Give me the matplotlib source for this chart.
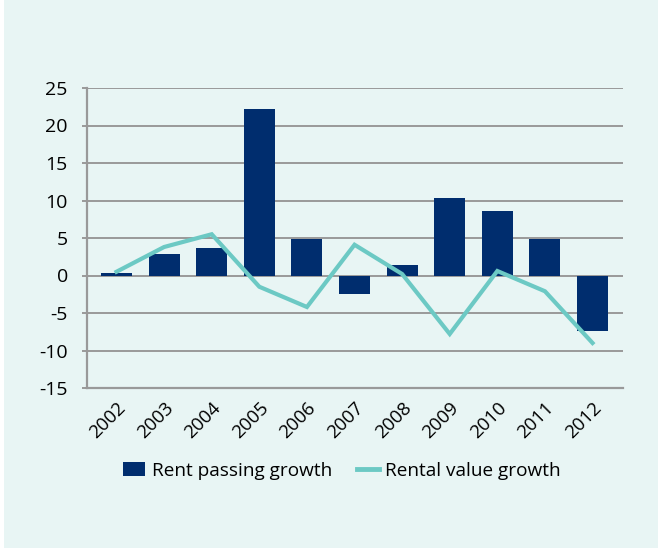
import matplotlib
matplotlib.use("Agg")
import matplotlib.pyplot as plt
from matplotlib.patches import Rectangle
from matplotlib.lines import Line2D

years = ["2002", "2003", "2004", "2005", "2006", "2007", "2008", "2009", "2010", "2011", "2012"]
rent_passing = [0.3, 2.9, 3.7, 22.2, 4.9, -2.4, 1.4, 10.3, 8.6, 4.9, -7.4]
rental_value = [0.5, 3.8, 5.5, -1.5, -4.2, 4.1, 0.2, -7.8, 0.6, -2.1, -9.0]
yticks = [-15, -10, -5, 0, 5, 10, 15, 20, 25]

plt.rcParams['font.family'] = ['Open Sans', 'DejaVu Sans']
bg = "#E8F5F4"
bar_c = "#002D6E"
line_c = "#6CC9C4"
grid_c = "#999999"
txt_c = "#000000"

fig = plt.figure(figsize=(6.58, 5.48), dpi=100, facecolor="white")
fig.patches.append(Rectangle((4/658, 0), 1, 1, transform=fig.transFigure,
                             facecolor=bg, edgecolor="none", zorder=-10))
ax = fig.add_axes([87/658, 1-388/548, (623-87)/658, 300/548])
ax.set_facecolor(bg)

x = list(range(len(years)))
ax.bar(x, rent_passing, width=0.65, color=bar_c, zorder=3, label="Rent passing growth")
ax.plot(x, rental_value, color=line_c, lw=3.0, zorder=4, label="Rental value growth",
        solid_joinstyle="miter")

ax.set_ylim(-15, 25)
ax.set_xlim(-0.62, 10.64)
ax.set_yticks(yticks)
ax.set_yticklabels([str(v) for v in yticks], fontsize=14, color=txt_c)
ax.yaxis.grid(True, color=grid_c, lw=1.4, zorder=1)
ax.set_axisbelow(True)
for s in ["top", "right"]:
    ax.spines[s].set_visible(False)
ax.spines["left"].set_color(grid_c)
ax.spines["left"].set_linewidth(1.6)
ax.spines["bottom"].set_color(grid_c)
ax.spines["bottom"].set_linewidth(1.6)
ax.tick_params(axis="y", length=3.8, width=1.4, color=grid_c, pad=10)
ax.tick_params(axis="x", length=0, pad=8)
ax.set_xticks(x)
ax.set_xticklabels(years, rotation=45, ha="right", rotation_mode="anchor",
                   fontsize=13.5, color=txt_c)

handles = [Rectangle((0, 0), 1, 1, facecolor=bar_c),
           Line2D([0], [0], color=line_c, lw=3.5)]
fig.legend(handles, ["Rent passing growth", "Rental value growth"],
           loc="center", bbox_to_anchor=(342/658, 1-471/548), ncol=2, frameon=False,
           fontsize=13.7, handlelength=1.15, handleheight=0.75, columnspacing=1.3,
           handletextpad=0.35, labelcolor=txt_c)

fig.savefig("out.png", dpi=100, facecolor="white")
